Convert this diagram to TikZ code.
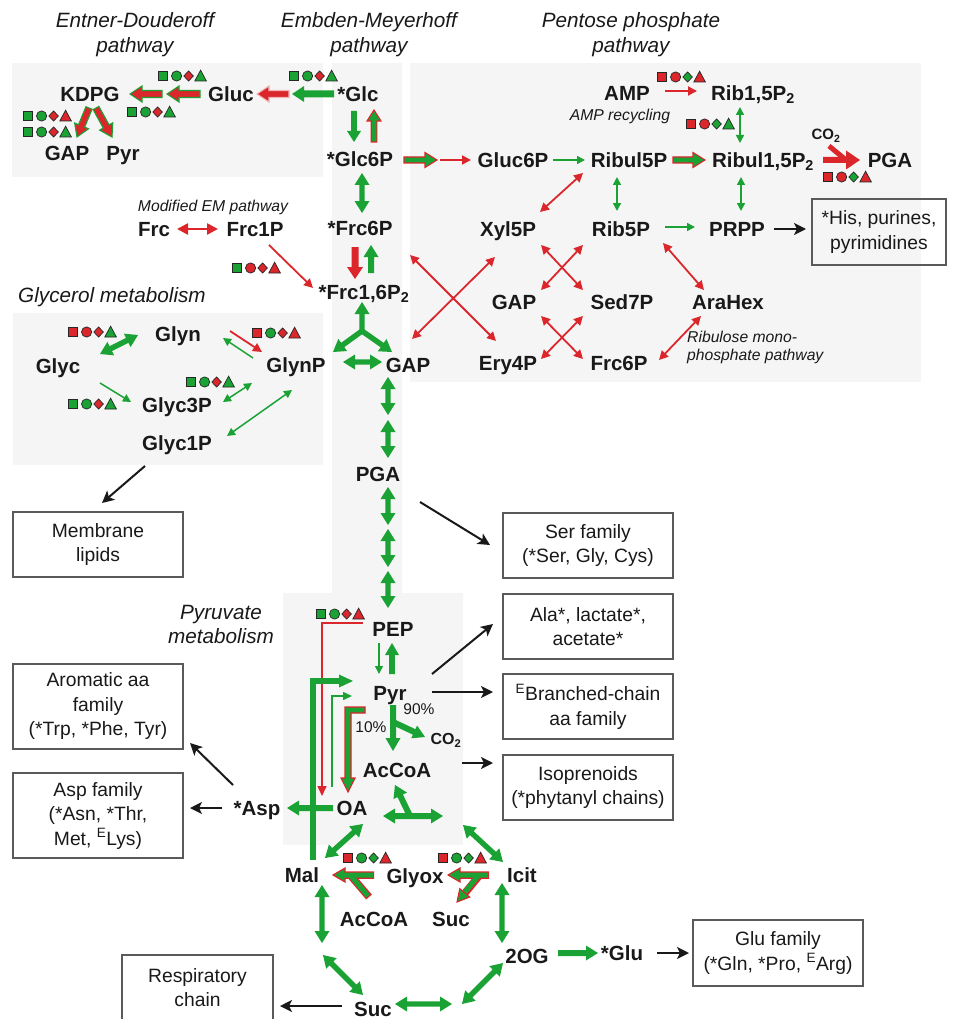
\documentclass[tikz,border=0pt]{standalone}
\usepackage{fontspec}
\setmainfont{Liberation Sans}
\usetikzlibrary{calc,arrows.meta}
\definecolor{grn}{RGB}{26,163,52}
\definecolor{rd}{RGB}{219,38,44}
\definecolor{bgc}{RGB}{245,245,245}
\definecolor{txt}{RGB}{25,25,25}
\definecolor{boxc}{RGB}{90,90,90}
\newcommand\Blk[6][]{%
 \path let \p1=($(#3)-(#2)$), \n1={atan2(\y1,\x1)}, \n2={veclen(\x1,\y1)} in \pgfextra{\xdef\bang{\n1}\xdef\blen{\n2}};
 \begin{scope}[shift={(#2)},rotate=\bang]
 \path[#1] (0,-#4) -- ({\blen-#6},-#4) -- ({\blen-#6},-#5) -- (\blen,0) -- ({\blen-#6},#5) -- ({\blen-#6},#4) -- (0,#4) -- cycle;
 \end{scope}}
\newcommand\DBlk[6][]{%
 \path let \p1=($(#3)-(#2)$), \n1={atan2(\y1,\x1)}, \n2={veclen(\x1,\y1)} in \pgfextra{\xdef\bang{\n1}\xdef\blen{\n2}};
 \begin{scope}[shift={(#2)},rotate=\bang]
 \path[#1] (0,0) -- (#6,-#5) -- (#6,-#4) -- ({\blen-#6},-#4) -- ({\blen-#6},-#5) -- (\blen,0) -- ({\blen-#6},#5) -- ({\blen-#6},#4) -- (#6,#4) -- (#6,#5) -- cycle;
 \end{scope}}
\newcommand\GD[2]{\DBlk[gf]{#1}{#2}{2.7}{7.5}{12}}
\newcommand\GS[2]{\Blk[gf]{#1}{#2}{2.7}{7.5}{12}}
\newcommand\Syms[6]{%
 \begin{scope}[shift={(#1,#2)}]
 \filldraw[fill=#3, symb] (0.3,-4.8) rectangle (9.5,4.8);
 \filldraw[fill=#4, symb] (18.6,0) circle[radius=5.1pt];
 \filldraw[fill=#5, symb] (30.6,-5) -- (35.4,0) -- (30.6,5) -- (25.8,0) -- cycle;
 \filldraw[fill=#6, symb] (36.8,5) -- (48.4,5) -- (42.6,-5.8) -- cycle;
 \end{scope}}
\begin{document}
\begin{tikzpicture}[x=1pt,y=-1pt,
 lbl/.style={font=\fontsize{20.5}{24}\selectfont\bfseries, text=txt, inner sep=0pt, anchor=base, yshift=-7.3pt},
 lblS/.style={font=\fontsize{16}{19}\selectfont\bfseries, text=txt, inner sep=0pt, anchor=base, yshift=-5.7pt},
 ttl/.style={font=\fontsize{20.7}{25}\selectfont\itshape, text=txt, inner sep=0pt, align=center},
 sml/.style={font=\fontsize{15.7}{18}\selectfont\itshape, text=txt, inner sep=0pt},
 pct/.style={font=\fontsize{15.5}{19}\selectfont, text=txt, inner sep=0pt, anchor=base, yshift=-5.5pt},
 box/.style={draw=boxc, line width=1.1pt, align=center, inner sep=0pt, font=\fontsize{19.3}{24.5}\selectfont, text=txt, minimum width=170pt, minimum height=65pt},
 gf/.style={fill=grn}, rf/.style={fill=rd},
 rg/.style={fill=rd, draw=grn, line width=1.1pt},
 gr/.style={fill=grn, draw=rd, line width=1.1pt},
 rr/.style={fill=rd, draw=rd!35!white, line width=1.1pt},
 barr/.style={draw=txt, line width=2pt, -{Stealth[length=12pt,width=12pt,inset=3pt]}},
 rth/.style={draw=rd, line width=1.8pt, -{Triangle[length=9pt,width=9pt]}},
 rth2/.style={draw=rd, line width=1.8pt, {Triangle[length=9pt,width=9pt]}-{Triangle[length=9pt,width=9pt]}},
 gth/.style={draw=grn, line width=1.5pt, -{Triangle[length=8pt,width=8pt]}},
 gth2/.style={draw=grn, line width=1.5pt, {Triangle[length=8pt,width=8pt]}-{Triangle[length=8pt,width=8pt]}},
 symb/.style={draw=black!85, line width=0.7pt},
]
\useasboundingbox (0,0) rectangle (953,1019);
% grey backgrounds
\fill[bgc] (12,63) rectangle (323,177);
\fill[bgc] (332,63) rectangle (402,593);
\fill[bgc] (410,63) rectangle (921,382);
\fill[bgc] (13,313) rectangle (323,465);
\fill[bgc] (283,593) rectangle (463,845);
% titles
\node[ttl] (tED) at (135,34.5) {Entner-Douderoff\\pathway};
\node[ttl] (tEM) at (369,34.5) {Embden-Meyerhoff\\pathway};
\node[ttl] (tPP) at (631,34.5) {Pentose phosphate\\pathway};
\node[ttl] (tGly) at (112,297) {Glycerol metabolism};
\node[ttl, font=\fontsize{20.7}{24}\selectfont\itshape] (tPyr) at (221,624) {Pyruvate\\metabolism};
\node[sml] (tMod) at (213,207) {Modified EM pathway};
\node[sml] (tAMP) at (620,116) {AMP recycling};
\node[sml, anchor=west, align=left] (tRMP) at (687,347) {Ribulose mono-\\phosphate pathway};
% labels ED / EM
\node[lbl] (kdpg) at (90,94) {KDPG};
\node[lbl] (gluc) at (231,94) {Gluc};
\node[lbl] (glc) at (358,94) {*Glc};
\node[lbl] (gapED) at (67,153) {GAP};
\node[lbl] (pyrED) at (123,153) {Pyr};
\node[lbl] (glc6p) at (360,159) {*Glc6P};
\node[lbl] (frc6p) at (360,228) {*Frc6P};
\node[lbl] (frc16) at (364,292) {*Frc1,6P\textsubscript{2}};
\node[lbl] (gapEM) at (408,365) {GAP};
\node[lbl] (pgaEM) at (378,474) {PGA};
% PP
\node[lbl] (gluc6p) at (513,160) {Gluc6P};
\node[lbl] (ribul5p) at (629,160) {Ribul5P};
\node[lbl] (ribul15) at (763,160) {Ribul1,5P\textsubscript{2}};
\node[lbl] (pgaPP) at (890,160) {PGA};
\node[lbl] (amp) at (627,93) {AMP};
\node[lbl] (rib15) at (753,93) {Rib1,5P\textsubscript{2}};
\node[lblS, font=\fontsize{15}{18}\selectfont\bfseries] (co2PP) at (826,134) {CO\textsubscript{2}};
\node[lbl] (xyl5p) at (508,229) {Xyl5P};
\node[lbl] (rib5p) at (621,229) {Rib5P};
\node[lbl] (prpp) at (737,229) {PRPP};
\node[lbl] (gapPP) at (514,302) {GAP};
\node[lbl] (sed7p) at (622,302) {Sed7P};
\node[lbl] (arahex) at (728,302) {AraHex};
\node[lbl] (ery4p) at (508,363) {Ery4P};
\node[lbl] (frc6pPP) at (619,363) {Frc6P};
% left
\node[lbl] (frc) at (154,229) {Frc};
\node[lbl] (frc1p) at (255,229) {Frc1P};
\node[lbl] (glyn) at (178,334) {Glyn};
\node[lbl] (glyc) at (58,366) {Glyc};
\node[lbl] (glynp) at (296,365) {GlynP};
\node[lbl] (glyc3p) at (177,405) {Glyc3P};
\node[lbl] (glyc1p) at (177,443) {Glyc1P};
% pyruvate & TCA
\node[lbl] (pep) at (393,629) {PEP};
\node[lbl] (pyr) at (390,693) {Pyr};
\node[lblS] (co2) at (446,739) {CO\textsubscript{2}};
\node[lbl] (accoa) at (397,770) {AcCoA};
\node[lbl] (oa) at (352,808) {OA};
\node[lbl] (asp) at (257,808) {*Asp};
\node[lbl] (mal) at (302,875) {Mal};
\node[lbl] (glyox) at (415,876) {Glyox};
\node[lbl] (icit) at (522,875) {Icit};
\node[lbl] (accoa2) at (374,919) {AcCoA};
\node[lbl] (suc2) at (451,919) {Suc};
\node[lbl] (og) at (527,956) {2OG};
\node[lbl] (suc) at (373,1009) {Suc};
\node[lbl] (glu) at (622,953) {*Glu};
\node[pct] (p10) at (371,727) {10\%};
\node[pct] (p90) at (419,709) {90\%};
% boxes
\node[box] (memb) at (98,544.5) {Membrane\\lipids};
\node[box, minimum height=85pt] (arom) at (98,706.5) {Aromatic aa\\family\\(*Trp, *Phe, Tyr)};
\node[box, minimum height=85pt] (aspf) at (98,815.5) {Asp family\\(*Asn, *Thr,\\Met, \textsuperscript{E}Lys)};
\node[box] (serf) at (588,545.5) {Ser family\\(*Ser, Gly, Cys)};
\node[box] (ala) at (588,626.5) {Ala*, lactate*,\\acetate*};
\node[box] (bcaa) at (588,706.5) {\textsuperscript{E}Branched-chain\\aa family};
\node[box] (iso) at (588,787.5) {Isoprenoids\\(*phytanyl chains)};
\node[box, minimum height=66pt] (gluf) at (778,953) {Glu family\\(*Gln, *Pro, \textsuperscript{E}Arg)};
\node[box, minimum width=134pt, minimum height=66pt] (his) at (879,232) {*His, purines,\\pyrimidines};
\draw[boxc, line width=1.1pt] (122,1025) -- (122,955) -- (273,955) -- (273,1025);
\node[box, draw=none, minimum width=151pt, minimum height=64pt] (resp) at (197.5,987.5) {Respiratory\\chain};
% symbol groups
\Syms{158}{76}{grn}{grn}{rd}{grn}
\Syms{289}{76}{grn}{grn}{rd}{grn}
\Syms{127}{112}{grn}{grn}{rd}{grn}
\Syms{23}{116}{grn}{grn}{rd}{rd}
\Syms{23}{132}{grn}{grn}{rd}{grn}
\Syms{657}{77}{rd}{rd}{grn}{rd}
\Syms{686}{124}{rd}{rd}{grn}{grn}
\Syms{823}{177}{rd}{rd}{grn}{rd}
\Syms{232}{268}{grn}{rd}{rd}{rd}
\Syms{68}{332}{rd}{rd}{rd}{grn}
\Syms{252}{333}{rd}{grn}{rd}{rd}
\Syms{186}{382}{grn}{grn}{rd}{grn}
\Syms{68}{404}{grn}{grn}{rd}{grn}
\Syms{316}{614}{grn}{grn}{rd}{rd}
\Syms{343}{858}{rd}{grn}{grn}{rd}
\Syms{438}{858}{rd}{grn}{grn}{rd}
% ED arrows
\Blk[gf]{334,94}{292,94}{3.5}{8}{12}
\Blk[rr]{289,94}{257,94}{3.5}{8}{12}
\Blk[rg]{200,94}{167,94}{3.5}{8}{12}
\Blk[rg]{162,94}{130,94}{3.5}{8}{12}
\Blk[rg]{89,108}{77,137}{3.3}{7.5}{12}
\Blk[rg]{96,108}{112,137}{3.3}{7.5}{12}
% EM arrows
\Blk[gf]{354,111}{354,142}{2.8}{7}{11}
\Blk[gr]{374,142}{374,110}{2.8}{7}{11}
\GD{362,173}{362,213}
\Blk[rf]{355,247}{355,279}{3.5}{8}{12}
\Blk[gf]{371,273}{371,245}{3}{7.5}{12}
\GS{362,331}{362,302}
\GS{362,331}{333,352}
\GS{362,331}{392,352}
\GD{343,362}{382,362}
\GD{388,377}{388,415}
\GD{388,420}{388,458}
\GD{388,487}{388,525}
\GD{388,529}{388,567}
\GD{388,571}{388,608}
% PP arrows
\Blk[gr]{404,160}{437,160}{3}{7.5}{12}
\draw[rth] (440,160) -- (471,160);
\draw[gth] (553,160) -- (585,160);
\Blk[gr]{673,160}{705,160}{3}{7.5}{12}
\draw[rd, line width=5pt] (829,146) -- (846,160);
\Blk[rf]{823,160}{860,160}{3}{9.5}{14}
\draw[rth] (665,91) -- (697,91);
\draw[gth2] (740,107) -- (740,143);
\draw[gth2] (617,177) -- (617,211);
\draw[gth2] (741,177) -- (741,211);
\draw[rth2] (583,173) -- (540,212);
\draw[gth] (665,227) -- (695,227);
\draw[barr] (774,229) -- (806,229);
\draw[rth2] (410,255) -- (496,341);
\draw[rth2] (412,339) -- (495,257);
\draw[rth2] (541,245) -- (583,290);
\draw[rth2] (583,245) -- (541,290);
\draw[rth2] (541,316) -- (583,359);
\draw[rth2] (583,316) -- (541,359);
\draw[rth2] (663,243) -- (704,290);
\draw[rth2] (701,316) -- (659,360);
% left arrows
\draw[draw=rd, line width=2.5pt, {Triangle[length=11pt,width=11pt]}-{Triangle[length=11pt,width=11pt]}] (177,229) -- (218,229);
\draw[rth] (269,245) -- (313,288);
\GD{100,354}{138,335}
\draw[gth] (253,358) -- (223,338);
\draw[rth] (230,331) -- (262,352);
\draw[gth] (100,383) -- (131,402);
\draw[gth2] (223,402) -- (252,383);
\draw[gth2] (227,436) -- (292,390);
\draw[barr] (145,466) -- (102,503);
% pyruvate region
\draw[barr] (420,502) -- (490,545);
\draw[rd, line width=1.5pt, -{Triangle[length=10pt,width=9pt]}] (363,623) -- (322,623) -- (322,796);
\draw[gth] (379,643) -- (379,674);
\Blk[gf]{392,674}{392,643}{2.8}{7}{12}
\draw[grn, line width=5.5pt] (313,860) -- (313,681) -- (340,681);
\Blk[gf]{337,681}{353,681}{2.75}{6.5}{14}
\draw[grn, line width=1.5pt, -{Triangle[length=9pt,width=8pt]}] (332,787) -- (332,696) -- (352,696);
\path[gr] (365,707) -- (345,707) -- (345,778) -- (341,778) -- (348,792) -- (355,778) -- (351,778) -- (351,713) -- (365,713) -- cycle;
\Blk[gf]{393,705}{393,751}{3}{7.5}{13}
\Blk[gf]{393,722}{425,737}{3}{7}{12}
\Blk[gf]{333,808}{287,808}{3}{7.5}{12}
\DBlk[gf]{383,816}{443,816}{3}{7.5}{12}
\Blk[gf]{410,816}{395,785}{3}{7.5}{12}
\draw[barr] (432,674) -- (493,624);
\draw[barr] (432,692) -- (493,692);
\draw[barr] (462,763) -- (493,763);
\draw[barr] (233,785) -- (190,743);
\draw[barr] (222,808) -- (190,808);
% TCA cycle
\GD{325,858}{363,824}
\GD{463,825}{503,862}
\GD{322,885}{322,943}
\GD{323,955}{363,995}
\GD{395,1004}{452,1004}
\GD{462,1004}{503,963}
\GD{502,883}{502,943}
\Blk[gf]{558,953}{598,953}{3}{7.5}{12}
\draw[barr] (657,953) -- (689,953);
\draw[barr] (342,1006) -- (280,1006);
% glyoxylate shunt
\draw[rd, line width=7.5pt] (374,875) -- (343,875) (369,897) -- (351,876);
\Blk[gr]{345,875}{333,875}{2.5}{7}{12}
\draw[grn, line width=5pt] (373,875) -- (344,875) (368,896) -- (351,876);
\draw[rd, line width=7.5pt] (489,875) -- (458,875) (479,876) -- (465,893);
\Blk[gr]{460,875}{448,875}{2.5}{7}{12}
\Blk[gr]{464.8,892.8}{457,902}{2.5}{6.5}{12}
\draw[grn, line width=5pt] (488,875) -- (459,875) (478,876) -- (465,892);
\end{tikzpicture}
\end{document}
